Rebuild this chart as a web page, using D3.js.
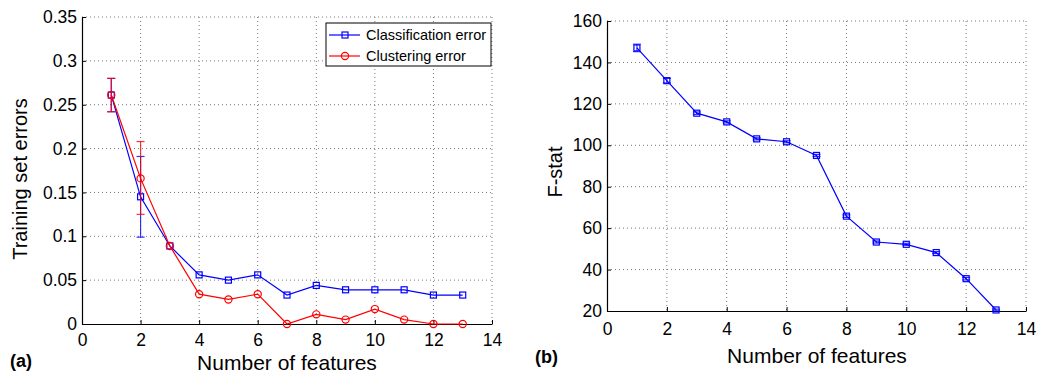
<!DOCTYPE html>
<html>
<head>
<meta charset="utf-8">
<script src="https://cdn.jsdelivr.net/npm/d3@7"></script>
<style>
  body { margin: 0; background: #fff; }
  svg { display: block; font-family: "Liberation Sans", Arial, sans-serif; }
</style>
</head>
<body>
<svg id="chart" width="1042" height="373"></svg>
<script>
// data
const features = [1, 2, 3, 4, 5, 6, 7, 8, 9, 10, 11, 12, 13];
const classError = [0.261, 0.145, 0.089, 0.056, 0.050, 0.056, 0.033, 0.044, 0.039, 0.039, 0.039, 0.033, 0.033];
const classErrLow = [0.242, 0.099, null, null, null, null, null, null, null, null, null, null, null];
const classErrHigh = [0.280, 0.191, null, null, null, null, null, null, null, null, null, null, null];
const clustError = [0.261, 0.166, 0.089, 0.034, 0.028, 0.034, 0.000, 0.011, 0.005, 0.017, 0.005, 0.000, 0.000];
const clustErrLow = [0.242, 0.125, null, null, null, null, null, null, null, null, null, null, null];
const clustErrHigh = [0.280, 0.208, null, null, null, null, null, null, null, null, null, null, null];
const fStat = [147.0, 131.2, 115.5, 111.3, 103.1, 101.7, 95.1, 65.8, 53.3, 52.2, 48.2, 35.6, 20.5];
const fStatErr = [1.8, 1.1, 0.6, 0.5, 0.5, 0.5, 0.5, 0.6, 0.5, 0.5, 0.5, 0.6, 0.4];

const xTicks = [0, 2, 4, 6, 8, 10, 12, 14];
const yTicksA = [0, 0.05, 0.1, 0.15, 0.2, 0.25, 0.3, 0.35];
const yTicksB = [20, 40, 60, 80, 100, 120, 140, 160];

const BLUE = '#0000ff';
const RED = '#ff0000';
const svg = d3.select('#chart');

function panel(opts) {
  const { x0, x1, y0, y1, yDomain, yTicks, yFmt, xPad } = opts;
  const x = d3.scaleLinear().domain([0, 14]).range([x0, x1]);
  const y = d3.scaleLinear().domain(yDomain).range([y1, y0]);
  const g = svg.append('g');

  // dotted grid
  g.append('g').selectAll('line').data(xTicks.slice(1)).enter().append('line')
    .attr('x1', d => x(d)).attr('x2', d => x(d)).attr('y1', y0).attr('y2', y1)
    .attr('stroke', '#777').attr('stroke-width', 1).attr('stroke-dasharray', '1,3');
  g.append('g').selectAll('line').data(yTicks.slice(1)).enter().append('line')
    .attr('x1', x0).attr('x2', x1).attr('y1', d => y(d)).attr('y2', d => y(d))
    .attr('stroke', '#777').attr('stroke-width', 1).attr('stroke-dasharray', '1,3');

  // axes
  const ax = g.append('g').attr('transform', `translate(0,${y1})`)
    .call(d3.axisBottom(x).tickValues(xTicks).tickSizeInner(-4).tickSizeOuter(0).tickPadding(xPad));
  const ay = g.append('g').attr('transform', `translate(${x0},0)`)
    .call(d3.axisLeft(y).tickValues(yTicks).tickFormat(yFmt).tickSizeInner(-4).tickSizeOuter(0).tickPadding(5));
  [ax, ay].forEach(a => {
    a.select('.domain').attr('stroke', '#000').attr('stroke-width', 1.2);
    a.selectAll('.tick line').attr('stroke', '#000');
    a.selectAll('text').attr('fill', '#000').style('font-size', '17.5px')
      .style('font-family', '"Liberation Sans", Arial, sans-serif');
  });
  return { g, x, y };
}

// ---- panel (a)
const A = panel({ x0: 82, x1: 492, y0: 17, y1: 324, yDomain: [0, 0.35], yTicks: yTicksA,
  yFmt: d => d === 0 ? '0' : String(+d.toFixed(2)), xPad: 10 });

function series(P, vals, low, high, color, marker) {
  const line = d3.line().x((d, i) => P.x(features[i])).y(d => P.y(d));
  P.g.append('path').datum(vals).attr('d', line)
    .attr('fill', 'none').attr('stroke', color).attr('stroke-width', 1.2);
  const eb = features.map((f, i) => ({ f, lo: low[i], hi: high[i] })).filter(d => d.lo != null);
  const eg = P.g.append('g').attr('stroke', color).attr('stroke-width', 1.2).attr('opacity', 0.8);
  eg.selectAll('.v').data(eb).enter().append('line')
    .attr('x1', d => P.x(d.f)).attr('x2', d => P.x(d.f)).attr('y1', d => P.y(d.lo)).attr('y2', d => P.y(d.hi));
  ['lo', 'hi'].forEach(k => {
    eg.selectAll('.c' + k).data(eb).enter().append('line')
      .attr('x1', d => P.x(d.f) - 4).attr('x2', d => P.x(d.f) + 4)
      .attr('y1', d => P.y(d[k])).attr('y2', d => P.y(d[k]));
  });
  const pts = P.g.append('g');
  if (marker === 'square') {
    pts.selectAll('rect').data(vals).enter().append('rect')
      .attr('x', (d, i) => P.x(features[i]) - 3).attr('y', d => P.y(d) - 3)
      .attr('width', 6).attr('height', 6)
      .attr('fill', 'none').attr('stroke', color).attr('stroke-width', 1.2);
  } else {
    pts.selectAll('circle').data(vals).enter().append('circle')
      .attr('cx', (d, i) => P.x(features[i])).attr('cy', d => P.y(d)).attr('r', 3.6)
      .attr('fill', 'none').attr('stroke', color).attr('stroke-width', 1.2);
  }
}

series(A, classError, classErrLow, classErrHigh, BLUE, 'square');
series(A, clustError, clustErrLow, clustErrHigh, RED, 'circle');

// legend
const leg = svg.append('g');
leg.append('rect').attr('x', 326).attr('y', 23).attr('width', 165).attr('height', 43)
  .attr('fill', '#fff').attr('stroke', '#000').attr('stroke-width', 1);
const legItems = [
  { label: 'Classification error', color: BLUE, marker: 'square', y: 35 },
  { label: 'Clustering error', color: RED, marker: 'circle', y: 56 }
];
legItems.forEach(it => {
  leg.append('line').attr('x1', 329).attr('x2', 360).attr('y1', it.y).attr('y2', it.y)
    .attr('stroke', it.color).attr('stroke-width', 1.2);
  if (it.marker === 'square') {
    leg.append('rect').attr('x', 342).attr('y', it.y - 3).attr('width', 6).attr('height', 6)
      .attr('fill', 'none').attr('stroke', it.color).attr('stroke-width', 1.2);
  } else {
    leg.append('circle').attr('cx', 345).attr('cy', it.y).attr('r', 3.6)
      .attr('fill', 'none').attr('stroke', it.color).attr('stroke-width', 1.2);
  }
  leg.append('text').attr('x', 366).attr('y', it.y + 5).style('font-size', '14.5px')
    .attr('fill', '#000').text(it.label);
});

svg.append('text').attr('x', 287).attr('y', 370).attr('text-anchor', 'middle')
  .style('font-size', '21px').text('Number of features');
svg.append('text').attr('transform', 'translate(27,179) rotate(-90)').attr('text-anchor', 'middle')
  .style('font-size', '20px').text('Training set errors');
svg.append('text').attr('x', 10).attr('y', 367).style('font-size', '18px')
  .style('font-weight', 'bold').text('(a)');

// ---- panel (b)
const B = panel({ x0: 607, x1: 1026, y0: 21, y1: 311, yDomain: [20, 160], yTicks: yTicksB,
  yFmt: d3.format('d'), xPad: 12 });
series(B, fStat, fStat.map((v, i) => v - fStatErr[i]), fStat.map((v, i) => v + fStatErr[i]), BLUE, 'square');

svg.append('text').attr('x', 817).attr('y', 363).attr('text-anchor', 'middle')
  .style('font-size', '21px').text('Number of features');
svg.append('text').attr('transform', 'translate(562,172) rotate(-90)').attr('text-anchor', 'middle')
  .style('font-size', '20px').text('F-stat');
svg.append('text').attr('x', 535).attr('y', 363).style('font-size', '18px')
  .style('font-weight', 'bold').text('(b)');
</script>
</body>
</html>
